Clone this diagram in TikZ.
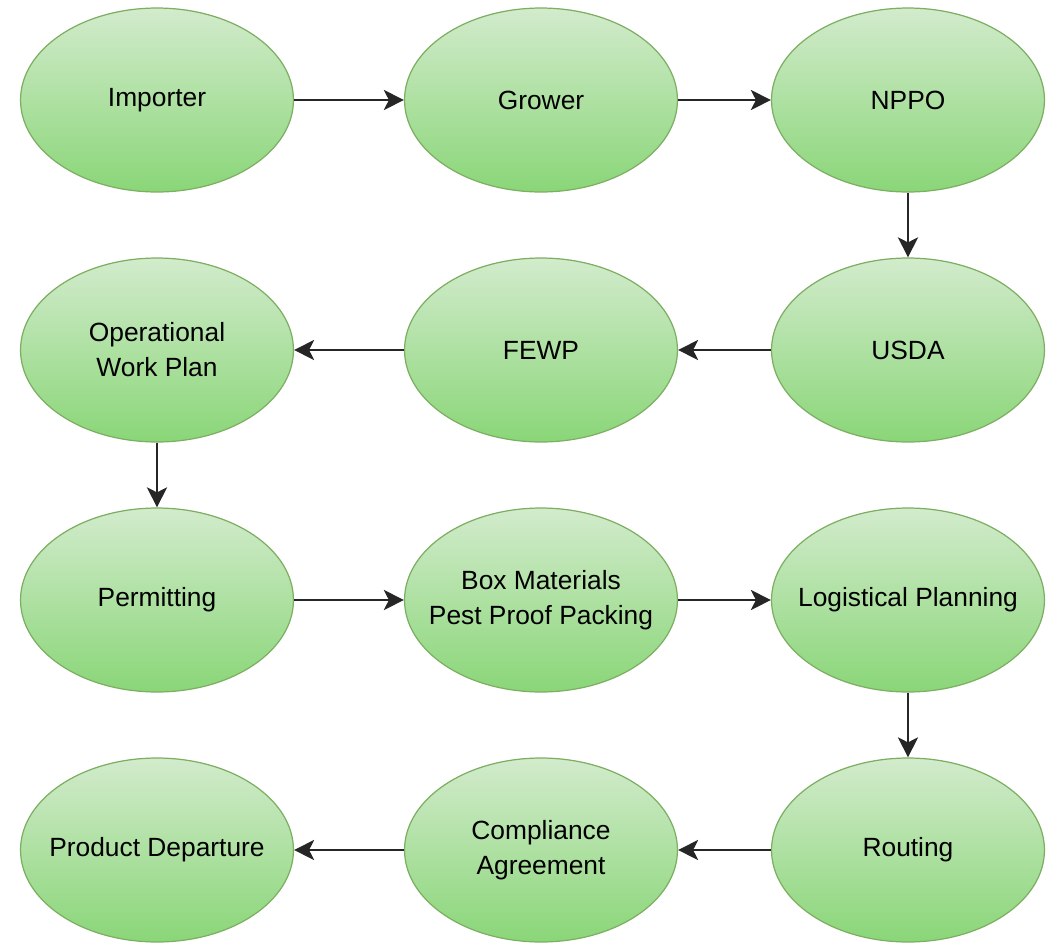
\documentclass[tikz,border=0pt]{standalone}
\usepackage{fontspec}
\setmainfont{Liberation Sans}
\usepackage{tikz}
\usetikzlibrary{shapes.geometric, arrows.meta, positioning}
\definecolor{stepedge}{RGB}{125,175,98}
\definecolor{steptop}{RGB}{210,235,204}
\definecolor{stepbottom}{RGB}{138,214,120}
\newcommand{\ovaltext}[1]{\makebox[0pt]{#1}}

\begin{document}
\begin{tikzpicture}[
    x=0.02cm, y=-0.02cm,
    stepnode/.style={draw=stepedge, line width=0.7pt, ellipse, minimum width=5.46cm, minimum height=3.68cm,
        top color=steptop, bottom color=stepbottom, align=center, font=\fontsize{15}{20}\selectfont, inner sep=0pt},
    flow/.style={-{Stealth[length=4mm, width=4mm, inset=1mm]}, line width=1.6pt, black!85}
]
    \useasboundingbox (0,0) rectangle (1063,944);

    % Row 1
    \node[stepnode] (importer) at (157,100) {\ovaltext{Importer}};
    \node[stepnode] (grower) at (541,100) {\ovaltext{Grower}};
    \node[stepnode] (nppo) at (908,100) {\ovaltext{NPPO}};

    % Row 2
    \node[stepnode] (usda) at (908,350) {\ovaltext{USDA}};
    \node[stepnode] (fewp) at (541,350) {\ovaltext{FEWP}};
    \node[stepnode] (owp) at (157,350) {\ovaltext{Operational}\\\ovaltext{Work Plan}};

    % Row 3
    \node[stepnode] (permit) at (157,600) {\ovaltext{Permitting}};
    \node[stepnode] (box) at (541,600) {\ovaltext{Box Materials}\\\ovaltext{Pest Proof Packing}};
    \node[stepnode] (logistics) at (908,600) {\ovaltext{Logistical Planning}};

    % Row 4
    \node[stepnode] (routing) at (908,850) {\ovaltext{Routing}};
    \node[stepnode] (comply) at (541,850) {\ovaltext{Compliance}\\\ovaltext{Agreement}};
    \node[stepnode] (depart) at (157,850) {\ovaltext{Product Departure}};

    % Connectors
    \draw[flow] (importer) -- (grower);
    \draw[flow] (grower) -- (nppo);
    \draw[flow] (nppo) -- (usda);
    \draw[flow] (usda) -- (fewp);
    \draw[flow] (fewp) -- (owp);
    \draw[flow] (owp) -- (permit);
    \draw[flow] (permit) -- (box);
    \draw[flow] (box) -- (logistics);
    \draw[flow] (logistics) -- (routing);
    \draw[flow] (routing) -- (comply);
    \draw[flow] (comply) -- (depart);
\end{tikzpicture}
\end{document}
